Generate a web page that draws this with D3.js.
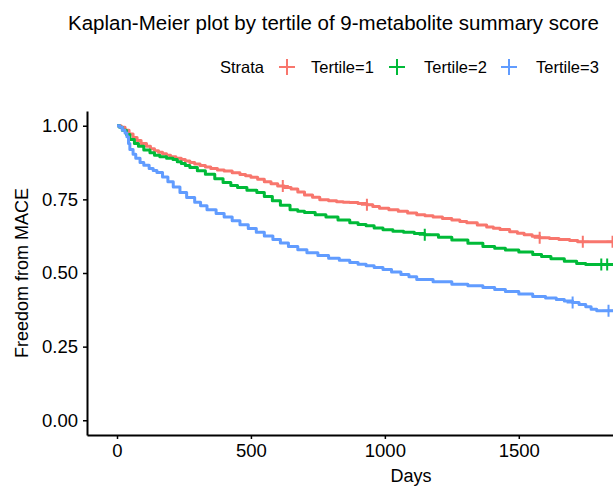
<!DOCTYPE html>
<html>
<head>
<meta charset="utf-8">
<script src="https://cdn.jsdelivr.net/npm/d3@7"></script>
<style>
  body { margin: 0; background: #fff; }
  text { font-family: "Liberation Sans", Arial, sans-serif; fill: #000; }
</style>
</head>
<body>
<script>
// chart size
const width = 613;
const height = 487;

const strata = ["Tertile=1", "Tertile=2", "Tertile=3"];
const colors = ["#F8766D", "#00BA38", "#619CFF"];

// KM step points (days, survival)
const t1Days = [0, 15, 30, 45, 60, 75, 90, 110, 125, 140, 155, 170, 185, 200, 220, 240, 255, 272, 290, 310, 330, 350, 375, 400, 430, 459, 480, 500, 525, 550, 575, 600, 625, 650, 675, 700, 730, 757, 790, 820, 845, 869, 900, 933, 955, 980, 1015, 1050, 1085, 1119, 1150, 1180, 1215, 1250, 1280, 1306, 1345, 1380, 1405, 1430, 1466, 1495, 1520, 1550, 1578, 1615, 1650, 1690, 1720, 1900];
const t1Surv = [1.0, 0.995, 0.985, 0.972, 0.96, 0.95, 0.94, 0.93, 0.922, 0.915, 0.91, 0.905, 0.9, 0.895, 0.89, 0.885, 0.88, 0.875, 0.87, 0.865, 0.86, 0.855, 0.85, 0.846, 0.84, 0.834, 0.83, 0.825, 0.818, 0.81, 0.803, 0.795, 0.79, 0.785, 0.775, 0.765, 0.757, 0.749, 0.745, 0.742, 0.74, 0.739, 0.736, 0.732, 0.726, 0.72, 0.715, 0.71, 0.704, 0.698, 0.694, 0.69, 0.685, 0.68, 0.675, 0.671, 0.663, 0.656, 0.652, 0.648, 0.64, 0.635, 0.63, 0.625, 0.62, 0.617, 0.614, 0.61, 0.606, 0.606];
const t1Censor = [619, 933, 1578, 1739, 1850];

const t2Days = [0, 10, 20, 35, 48, 65, 80, 100, 123, 140, 160, 185, 209, 225, 240, 255, 272, 300, 330, 365, 396, 425, 450, 485, 522, 550, 580, 610, 646, 675, 700, 740, 780, 825, 869, 900, 930, 960, 993, 1030, 1070, 1110, 1149, 1200, 1250, 1310, 1366, 1410, 1450, 1500, 1552, 1585, 1620, 1670, 1716, 1750, 1900];
const t2Surv = [1.0, 0.995, 0.985, 0.97, 0.953, 0.94, 0.93, 0.918, 0.908, 0.9, 0.895, 0.89, 0.885, 0.878, 0.872, 0.865, 0.858, 0.847, 0.835, 0.82, 0.807, 0.797, 0.79, 0.781, 0.773, 0.76, 0.745, 0.73, 0.715, 0.71, 0.705, 0.698, 0.69, 0.68, 0.671, 0.665, 0.66, 0.653, 0.647, 0.642, 0.638, 0.634, 0.63, 0.621, 0.612, 0.601, 0.59, 0.584, 0.578, 0.571, 0.563, 0.556, 0.548, 0.54, 0.532, 0.529, 0.529];
const t2Censor = [1149, 1808, 1830];

const t3Days = [0, 10, 20, 30, 37, 43, 48, 60, 70, 86, 100, 120, 135, 149, 170, 190, 210, 235, 260, 290, 312, 336, 370, 400, 430, 459, 490, 520, 550, 582, 610, 640, 675, 709, 750, 790, 830, 869, 900, 930, 960, 993, 1025, 1060, 1090, 1119, 1180, 1250, 1310, 1366, 1410, 1450, 1500, 1552, 1600, 1640, 1670, 1701, 1725, 1750, 1770, 1791, 1900];
const t3Surv = [1.0, 0.995, 0.985, 0.975, 0.963, 0.94, 0.919, 0.903, 0.89, 0.875, 0.866, 0.855, 0.848, 0.841, 0.826, 0.81, 0.792, 0.773, 0.756, 0.74, 0.728, 0.715, 0.702, 0.69, 0.677, 0.664, 0.651, 0.638, 0.626, 0.614, 0.602, 0.59, 0.579, 0.569, 0.559, 0.55, 0.543, 0.536, 0.53, 0.525, 0.519, 0.512, 0.503, 0.495, 0.487, 0.478, 0.47, 0.462, 0.457, 0.451, 0.444, 0.437, 0.429, 0.42, 0.415, 0.41, 0.405, 0.4, 0.393, 0.385, 0.377, 0.372, 0.372];
const t3Censor = [1701, 1835];

const xTicks = [0, 500, 1000, 1500];
const yTicks = [0, 0.25, 0.5, 0.75, 1];

const series = [
  { days: t1Days, surv: t1Surv, censor: t1Censor },
  { days: t2Days, surv: t2Surv, censor: t2Censor },
  { days: t3Days, surv: t3Surv, censor: t3Censor }
];

// panel runs past the right edge (the figure is cropped)
const x = d3.scaleLinear().domain([-112, 2352]).range([87, 747]);
const y = d3.scaleLinear().domain([-0.05, 1.05]).range([435, 111]);

const svg = d3.select("body")
  .append("svg")
  .attr("width", width)
  .attr("height", height);

// title
svg.append("text")
  .attr("x", 68)
  .attr("y", 30)
  .style("font-size", "20.5px")
  .text("Kaplan-Meier plot by tertile of 9-metabolite summary score");

// legend
const legend = svg.append("g").style("font-size", "16.5px");
legend.append("text").attr("x", 220).attr("y", 73).text("Strata");
const plusX = [287, 397, 509];
const textX = [311, 424, 536];
strata.forEach((s, i) => {
  legend.append("path")
    .attr("d", `M${plusX[i] - 8},67H${plusX[i] + 8}M${plusX[i]},59V75`)
    .attr("stroke", colors[i])
    .attr("stroke-width", 2);
  legend.append("text").attr("x", textX[i]).attr("y", 73).text(s);
});

// curves
const line = d3.line()
  .x(d => x(d[0]))
  .y(d => y(d[1]))
  .curve(d3.curveStepAfter);

function survAt(s, t) {
  let v = s.surv[0];
  s.days.forEach((d, i) => { if (d <= t) v = s.surv[i]; });
  return v;
}

series.forEach((s, i) => {
  const pts = s.days.map((d, j) => [d, s.surv[j]]);
  svg.append("path")
    .datum(pts)
    .attr("d", line)
    .attr("fill", "none")
    .attr("stroke", colors[i])
    .attr("stroke-width", 3)
    .attr("stroke-linejoin", "round");
  svg.selectAll(null)
    .data(s.censor)
    .enter()
    .append("path")
    .attr("d", d => {
      const cx = x(d), cy = y(survAt(s, d));
      return `M${cx - 6},${cy}H${cx + 6}M${cx},${cy - 6}V${cy + 6}`;
    })
    .attr("stroke", colors[i])
    .attr("stroke-width", 2);
});

// axes
const xAxis = svg.append("g")
  .attr("transform", "translate(0,435)")
  .call(d3.axisBottom(x).tickValues(xTicks).tickFormat(d3.format("d")).tickSize(4).tickSizeOuter(0).tickPadding(5));
const yAxis = svg.append("g")
  .attr("transform", "translate(87,0)")
  .call(d3.axisLeft(y).tickValues(yTicks).tickFormat(d3.format(".2f")).tickSize(4).tickSizeOuter(0).tickPadding(5));

[xAxis, yAxis].forEach(g => {
  g.select(".domain").attr("stroke", "#000").attr("stroke-width", 2);
  g.selectAll(".tick line").attr("stroke", "#000").attr("stroke-width", 1.5);
  g.selectAll(".tick text")
    .style("font-size", "18.5px")
    .style("font-family", "'Liberation Sans', Arial, sans-serif")
    .attr("fill", "#1a1a1a");
});

// axis titles
svg.append("text")
  .attr("x", 411)
  .attr("y", 482)
  .attr("text-anchor", "middle")
  .style("font-size", "18px")
  .text("Days");
svg.append("text")
  .attr("transform", "translate(28,273) rotate(-90)")
  .attr("text-anchor", "middle")
  .style("font-size", "18px")
  .text("Freedom from MACE");
</script>
</body>
</html>
